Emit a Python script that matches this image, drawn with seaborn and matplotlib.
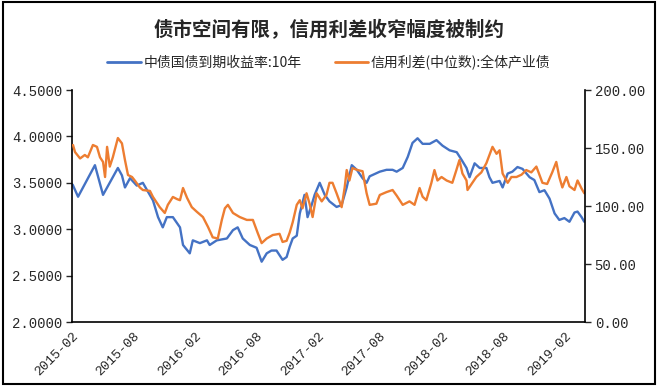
import pandas as pd
import numpy as np
import matplotlib
matplotlib.use("Agg")
import matplotlib.pyplot as plt
import matplotlib.dates as mdates
from matplotlib.lines import Line2D
from matplotlib.patches import Rectangle
import seaborn as sns

# 中债国债到期收益率:10年 (left axis)
yield_dates = ["2015-02-03", "2015-02-19", "2015-04-10", "2015-05-04", "2015-06-17", "2015-06-29",
               "2015-07-08", "2015-07-23", "2015-08-12", "2015-08-30", "2015-09-29", "2015-10-14",
               "2015-10-28", "2015-11-09", "2015-11-27", "2015-12-18", "2015-12-27", "2016-01-16",
               "2016-01-25", "2016-02-15", "2016-03-07", "2016-03-15", "2016-04-05", "2016-05-05",
               "2016-05-23", "2016-06-06", "2016-06-21", "2016-07-12", "2016-08-01", "2016-08-16",
               "2016-08-31", "2016-09-14", "2016-09-29", "2016-10-17", "2016-10-29", "2016-11-07",
               "2016-11-16", "2016-11-28", "2016-12-07", "2016-12-21", "2016-12-30", "2017-01-11",
               "2017-01-20", "2017-02-04", "2017-02-19", "2017-03-05", "2017-03-26", "2017-04-10",
               "2017-04-25", "2017-05-10", "2017-05-25", "2017-06-11", "2017-06-23", "2017-07-02",
               "2017-08-01", "2017-08-21", "2017-09-08", "2017-09-20", "2017-10-08", "2017-10-23",
               "2017-11-06", "2017-11-21", "2017-12-06", "2017-12-27", "2018-01-16", "2018-02-03",
               "2018-02-24", "2018-03-17", "2018-03-31", "2018-04-15", "2018-04-24", "2018-05-09",
               "2018-05-24", "2018-06-13", "2018-06-22", "2018-07-01", "2018-07-22", "2018-07-31",
               "2018-08-15", "2018-08-29", "2018-09-13", "2018-09-28", "2018-10-19", "2018-11-02",
               "2018-11-17", "2018-12-02", "2018-12-17", "2019-01-01", "2019-01-15", "2019-01-30",
               "2019-02-14", "2019-03-01", "2019-03-10", "2019-03-22", "2019-03-30"]
yield_10y = [3.48, 3.35, 3.69, 3.37, 3.66, 3.58,
             3.45, 3.55, 3.47, 3.50, 3.31, 3.13,
             3.02, 3.13, 3.13, 3.02, 2.83, 2.74,
             2.88, 2.85, 2.88, 2.83, 2.88, 2.90,
             2.99, 3.02, 2.90, 2.83, 2.80, 2.65,
             2.74, 2.77, 2.77, 2.67, 2.70, 2.81,
             2.90, 2.93, 3.17, 3.37, 3.13, 3.26,
             3.37, 3.50, 3.37, 3.30, 3.24, 3.26,
             3.45, 3.69, 3.64, 3.55, 3.50, 3.57,
             3.62, 3.64, 3.64, 3.62, 3.66, 3.78,
             3.93, 3.98, 3.92, 3.92, 3.96, 3.90,
             3.85, 3.83, 3.75, 3.66, 3.56, 3.71,
             3.66, 3.66, 3.56, 3.50, 3.52, 3.45,
             3.60, 3.62, 3.67, 3.65, 3.56, 3.53,
             3.40, 3.42, 3.33, 3.17, 3.10, 3.12,
             3.08, 3.18, 3.19, 3.13, 3.08]

# 信用利差(中位数):全体产业债 (right axis)
spread_dates = ["2015-02-04", "2015-02-10", "2015-02-25", "2015-03-11", "2015-03-20", "2015-04-04",
                "2015-04-16", "2015-04-25", "2015-05-04", "2015-05-10", "2015-05-16", "2015-05-24",
                "2015-06-02", "2015-06-17", "2015-06-29", "2015-07-08", "2015-07-17", "2015-07-29",
                "2015-08-06", "2015-08-21", "2015-08-30", "2015-09-20", "2015-09-29", "2015-10-19",
                "2015-11-03", "2015-11-12", "2015-11-27", "2015-12-09", "2015-12-18", "2015-12-27",
                "2016-01-08", "2016-01-22", "2016-02-06", "2016-02-24", "2016-03-10", "2016-03-24",
                "2016-04-08", "2016-04-20", "2016-04-29", "2016-05-08", "2016-05-23", "2016-06-12",
                "2016-07-03", "2016-07-21", "2016-08-04", "2016-08-16", "2016-08-31", "2016-09-18",
                "2016-10-08", "2016-10-17", "2016-10-29", "2016-11-07", "2016-11-16", "2016-11-28",
                "2016-12-07", "2016-12-15", "2016-12-27", "2017-01-05", "2017-01-14", "2017-01-26",
                "2017-02-10", "2017-02-24", "2017-03-05", "2017-03-14", "2017-03-26", "2017-04-10",
                "2017-04-19", "2017-04-25", "2017-05-03", "2017-05-12", "2017-05-27", "2017-06-11",
                "2017-06-23", "2017-07-02", "2017-07-22", "2017-08-01", "2017-08-21", "2017-09-08",
                "2017-09-20", "2017-10-08", "2017-10-28", "2017-11-12", "2017-11-27", "2017-12-06",
                "2017-12-17", "2018-01-01", "2018-01-10", "2018-01-19", "2018-01-31", "2018-02-15",
                "2018-03-04", "2018-03-16", "2018-03-25", "2018-04-03", "2018-04-15", "2018-04-18",
                "2018-04-30", "2018-05-14", "2018-05-29", "2018-06-13", "2018-06-22", "2018-07-01",
                "2018-07-13", "2018-07-22", "2018-07-31", "2018-08-15", "2018-08-26", "2018-09-10",
                "2018-09-25", "2018-10-09", "2018-10-24", "2018-11-08", "2018-11-17", "2018-11-26",
                "2018-12-10", "2018-12-25", "2019-01-06", "2019-01-15", "2019-01-24", "2019-02-05",
                "2019-02-14", "2019-03-01", "2019-03-10", "2019-03-22", "2019-03-30"]
credit_spread = [152.6, 146.5, 141.0, 144.0, 142.0, 152.6,
                 151.0, 142.0, 138.0, 125.0, 151.0, 134.0,
                 142.0, 158.6, 154.0, 139.6, 126.7, 125.0,
                 122.0, 116.0, 113.8, 113.0, 107.8, 99.0,
                 94.0, 101.0, 107.8, 106.0, 105.0, 115.5,
                 107.0, 99.0, 95.0, 90.5, 82.0, 73.0,
                 72.0, 88.0, 98.0, 101.0, 94.0, 90.5,
                 88.0, 88.0, 77.0, 68.0, 72.0, 75.0,
                 76.0, 69.0, 70.0, 77.0, 86.0, 101.0,
                 105.0, 98.0, 111.0, 102.0, 90.5, 111.0,
                 104.0, 109.5, 120.0, 120.0, 111.0, 99.0,
                 116.0, 131.0, 122.0, 132.7, 131.0, 130.0,
                 111.0, 101.0, 102.0, 109.5, 112.0, 113.8,
                 109.0, 101.0, 104.0, 101.0, 115.5, 108.0,
                 105.0, 120.0, 131.0, 122.0, 125.0, 122.0,
                 120.0, 131.0, 139.6, 128.0, 122.0, 113.8,
                 119.0, 125.0, 129.0, 137.0, 144.0, 151.0,
                 145.0, 148.0, 128.0, 120.0, 125.0, 125.0,
                 127.0, 131.0, 129.0, 134.0, 127.0, 120.0,
                 119.0, 129.0, 138.0, 125.0, 116.0, 125.0,
                 117.0, 113.8, 122.0, 115.0, 111.0]

yield_label = "中债国债到期收益率:10年"
spread_label = "信用利差(中位数):全体产业债"
title = "债市空间有限，信用利差收窄幅度被制约"

df_yield = pd.DataFrame({"date": pd.to_datetime(yield_dates), "value": yield_10y})
df_spread = pd.DataFrame({"date": pd.to_datetime(spread_dates), "value": credit_spread})

sns.set_style("white")
plt.rcParams['font.family'] = ['Noto Sans CJK SC', 'DejaVu Sans']

blue = "#4472C4"
orange = "#ED7D31"

fig = plt.figure(figsize=(6.58, 3.86), dpi=100)
ax = fig.add_axes([0.1094, 0.1658, 0.7796, 0.601])
ax2 = ax.twinx()

sns.lineplot(data=df_yield, x="date", y="value", ax=ax, color=blue, linewidth=1.7)
sns.lineplot(data=df_spread, x="date", y="value", ax=ax2, color=orange, linewidth=1.7)

ax.set_xlim(pd.Timestamp("2015-02-01"), pd.Timestamp("2019-04-01"))
ax.set_ylim(2.0, 4.5)
ax2.set_ylim(0, 200)
ax.set_yticks(np.arange(2.0, 4.51, 0.5))
ax2.set_yticks(np.arange(0, 201, 50))
ax.yaxis.set_major_formatter(matplotlib.ticker.FormatStrFormatter("%.4f"))
ax2.yaxis.set_major_formatter(matplotlib.ticker.FormatStrFormatter("%.2f"))

xt = pd.date_range("2015-02-01", "2019-02-01", freq="6MS")
ax.set_xticks(xt)
ax.xaxis.set_major_formatter(mdates.DateFormatter("%Y-%m"))

for a in (ax, ax2):
    a.set_xlabel("")
    a.set_ylabel("")
    a.spines["top"].set_visible(False)
    for s in a.spines.values():
        s.set_color("black")
        s.set_linewidth(1.2)

ax.spines["right"].set_visible(False)
ax2.spines["left"].set_visible(False)
ax2.spines["bottom"].set_visible(False)

ax.tick_params(axis="y", direction="out", length=4, width=1, labelsize=10, pad=3)
ax.tick_params(axis="x", direction="out", length=4, width=1, labelsize=9.5, pad=2)
ax2.tick_params(axis="y", direction="out", length=4, width=1, labelsize=10, pad=3)

for lab in ax.get_yticklabels() + ax2.get_yticklabels():
    lab.set_fontfamily("Liberation Mono")
for lab in ax.get_xticklabels():
    lab.set_fontfamily("Liberation Mono")
    lab.set_rotation(45)
    lab.set_ha("right")
    lab.set_rotation_mode("anchor")

handles = [Line2D([], [], color=blue, linewidth=2), Line2D([], [], color=orange, linewidth=2)]
fig.legend(handles, [yield_label, spread_label], loc="center", bbox_to_anchor=(0.5, 0.838),
           ncol=2, frameon=False, fontsize=10, handlelength=2.4, handletextpad=0.2,
           columnspacing=2.4)

fig.text(0.5, 0.922, title, ha="center", va="center", fontsize=14, fontweight="bold")

fig.patches.append(Rectangle((0.004, 0.006), 0.992, 0.988, transform=fig.transFigure,
                             fill=False, edgecolor="black", linewidth=1.5))

fig.savefig("out.png", dpi=100)
